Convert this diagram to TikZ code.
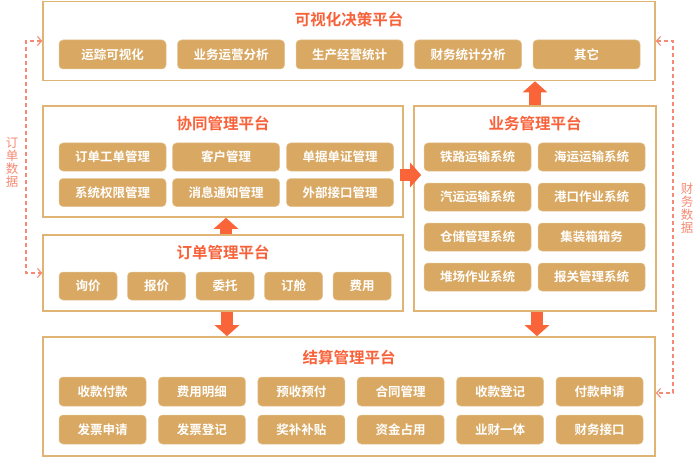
\documentclass[tikz,border=0pt]{standalone}
\usepackage{fontspec}
\setmainfont{Noto Sans CJK SC}[BoldFont={Noto Sans CJK SC Bold}]
\usetikzlibrary{arrows.meta}
\definecolor{boxline}{HTML}{DFB474}
\definecolor{btnfill}{HTML}{D9A963}
\definecolor{ttl}{HTML}{F8623A}
\definecolor{blk}{HTML}{F96538}
\definecolor{dsh}{HTML}{F48A73}
\tikzset{
  platform/.style={draw=boxline, line width=1.6pt, fill=white, rectangle, inner sep=0pt},
  ptitle/.style={text=ttl, font=\fontsize{15.5}{16}\selectfont\bfseries, inner sep=0pt},
  btn/.style={fill=btnfill, draw=btnfill!70!white, line width=0.5pt, rounded corners=4pt, text=white, font=\fontsize{12.5}{13}\selectfont\bfseries, inner sep=0pt, minimum height=28pt},
  bigarrow/.style={draw=blk, line width=12pt, -{Triangle[width=24pt,length=11pt]}},
  dasharrow/.style={dsh, line width=1.1pt, dash pattern=on 4pt off 3pt, {Straight Barb[length=4pt,width=9pt]}-{Straight Barb[length=4pt,width=9pt]}},
  vlabel/.style={text=dsh, font=\fontsize{12.5}{13}\selectfont, align=center, inner sep=0pt}
}
\begin{document}
\begin{tikzpicture}[x=1pt,y=-1pt]
\useasboundingbox (0,0) rectangle (700,457);
% platforms
\node[platform, minimum width=612pt, minimum height=79pt] (top) at (349,41) {};
\node[platform, minimum width=360pt, minimum height=111pt] (xt) at (223,161.5) {};
\node[platform, minimum width=360pt, minimum height=76pt] (order) at (223,273) {};
\node[platform, minimum width=242pt, minimum height=205pt] (yw) at (535,208.5) {};
\node[platform, minimum width=612pt, minimum height=119pt] (jie) at (349,396.5) {};
% titles
\node[ptitle] (ttop) at (349,20) {可视化决策平台};
\node[ptitle] (txt) at (223,123) {协同管理平台};
\node[ptitle] (torder) at (223,252) {订单管理平台};
\node[ptitle] (tyw) at (535,123) {业务管理平台};
\node[ptitle] (tjie) at (349,357) {结算管理平台};
% top buttons
\foreach \t [count=\i from 0] in {运踪可视化,业务运营分析,生产经营统计,财务统计分析,其它}
  \node[btn, minimum width=107pt, minimum height=29pt] (tb\i) at (112.5+\i*118.5,54.5) {\t};
% xt buttons
\node[btn, minimum width=107pt] (x1) at (112.5,157) {订单工单管理};
\node[btn, minimum width=107pt] (x2) at (226,157) {客户管理};
\node[btn, minimum width=107pt] (x3) at (340,157) {单据单证管理};
\node[btn, minimum width=107pt] (x4) at (112.5,192.5) {系统权限管理};
\node[btn, minimum width=107pt] (x5) at (226,192.5) {消息通知管理};
\node[btn, minimum width=107pt] (x6) at (340,192.5) {外部接口管理};
% order buttons
\foreach \t [count=\i from 0] in {询价,报价,委托,订舱,费用}
  \node[btn, minimum width=58pt] (ob\i) at (88+\i*68.5,286) {\t};
% yw buttons
\node[btn, minimum width=107pt] (y1) at (477.5,157) {铁路运输系统};
\node[btn, minimum width=107pt] (y2) at (591.5,157) {海运运输系统};
\node[btn, minimum width=107pt] (y3) at (477.5,197) {汽运运输系统};
\node[btn, minimum width=107pt] (y4) at (591.5,197) {港口作业系统};
\node[btn, minimum width=107pt] (y5) at (477.5,237) {仓储管理系统};
\node[btn, minimum width=107pt] (y6) at (591.5,237) {集装箱箱务};
\node[btn, minimum width=107pt] (y7) at (477.5,277) {堆场作业系统};
\node[btn, minimum width=107pt] (y8) at (591.5,277) {报关管理系统};
% jie buttons
\foreach \t [count=\i from 0] in {收款付款,费用明细,预收预付,合同管理,收款登记,付款申请}
  \node[btn, minimum width=87pt, minimum height=29pt] (ja\i) at (102.5+\i*99.4,391.5) {\t};
\foreach \t [count=\i from 0] in {发票申请,发票登记,奖补补贴,资金占用,业财一体,财务接口}
  \node[btn, minimum width=87pt, minimum height=29pt] (jb\i) at (102.5+\i*99.4,429.5) {\t};
% block arrows
\draw[bigarrow] ([xshift=3pt]order.north) -- ([xshift=3pt]xt.south);
\draw[bigarrow] (yw.north) -- (yw.north |- top.south);
\draw[bigarrow] ([xshift=-4pt]xt.east |- 0,175) -- ([xshift=8pt]yw.west |- 0,175);
\draw[bigarrow] ([xshift=4pt]order.south) -- ([xshift=4pt]order.south |- jie.north);
\draw[bigarrow] ([xshift=2pt]yw.south) -- ([xshift=2pt]yw.south |- jie.north);
% dashed data links
\coordinate (lt) at (26,41);
\coordinate (lb) at (26,273);
\draw[dasharrow] (top.west |- lt) -- (lt) -- (lb) -- (order.west |- lb);
\node[vlabel] (ldata) at (12,162) {订\\单\\数\\据};
\coordinate (rt) at (673,41);
\coordinate (rb) at (673,393);
\draw[dasharrow] (top.east |- rt) -- (rt) -- (rb) -- (jie.east |- rb);
\node[vlabel] (rdata) at (687,208) {财\\务\\数\\据};
\end{tikzpicture}
\end{document}
